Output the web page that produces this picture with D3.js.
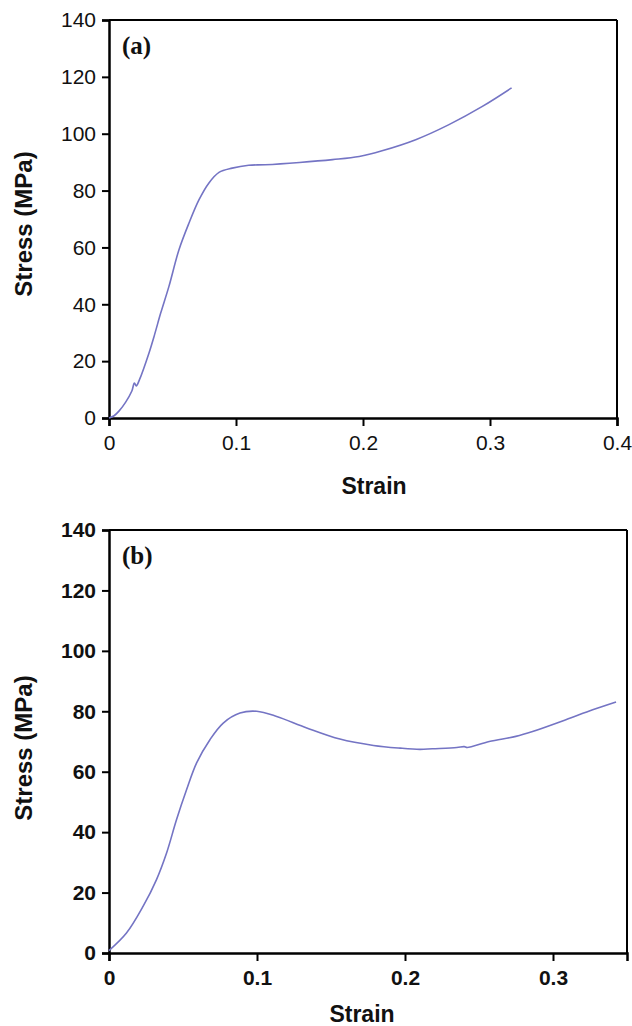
<!DOCTYPE html>
<html>
<head>
<meta charset="utf-8">
<script src="https://cdn.jsdelivr.net/npm/d3@7"></script>
<style>
  html, body { margin: 0; padding: 0; background: #fff; }
  svg { display: block; }
</style>
</head>
<body>
<svg id="chart" width="632" height="1026"></svg>
<script>
// ---- Data ----
const strainA = [0, 0.004, 0.008, 0.013, 0.018, 0.020, 0.0215, 0.024, 0.0315, 0.036, 0.0407, 0.0472, 0.0551, 0.063, 0.0709, 0.0787, 0.0866, 0.097, 0.110, 0.123, 0.150, 0.176, 0.197, 0.215, 0.2415, 0.2677, 0.294, 0.317];
const stressA = [0, 0.8, 2.5, 5.5, 9.5, 12.3, 11.3, 13.5, 22.9, 29.5, 36.9, 46.3, 59.2, 68.6, 76.8, 82.7, 86.4, 87.9, 88.9, 89.1, 89.9, 90.9, 92.0, 94.0, 97.9, 103.2, 109.6, 116.1];

const strainB = [0, 0.0118, 0.023, 0.0321, 0.0389, 0.0456, 0.0524, 0.0592, 0.0682, 0.0772, 0.0885, 0.0998, 0.1133, 0.1336, 0.156, 0.1787, 0.1968, 0.210, 0.2185, 0.235, 0.240, 0.242, 0.2569, 0.2749, 0.2862, 0.3087, 0.3268, 0.3426];
const stressB = [0.8, 6.6, 15.4, 24.3, 33.1, 44.1, 54.0, 62.9, 70.6, 76.1, 79.4, 80.0, 78.3, 74.5, 70.8, 68.7, 67.8, 67.4, 67.6, 68.0, 68.3, 68.0, 70.0, 71.7, 73.3, 77.2, 80.5, 83.1];

const xTicksA = [0, 0.1, 0.2, 0.3, 0.4];
const xTicksB = [0, 0.1, 0.2, 0.3];
const yTicks = [0, 20, 40, 60, 80, 100, 120, 140];

const panels = [
  { label: "(a)", strain: strainA, stress: stressA, xMax: 0.4, xTicks: xTicksA,
    left: 109, right: 617, top: 20, bottom: 418, bold: false,
    xTitleX: 374, xTitleY: 494, yTitleY: 224 },
  { label: "(b)", strain: strainB, stress: stressB, xMax: 0.35, xTicks: xTicksB,
    left: 109, right: 627, top: 530, bottom: 953, bold: true,
    xTitleX: 362, xTitleY: 1022, yTitleY: 748 }
];

const svg = d3.select("#chart");
const lineColor = "#7474c4";

panels.forEach(p => {
  const x = d3.scaleLinear().domain([0, p.xMax]).range([p.left, p.right]);
  const y = d3.scaleLinear().domain([0, 140]).range([p.bottom, p.top]);
  const g = svg.append("g");

  // frame (top & right)
  g.append("line").attr("x1", p.left).attr("x2", p.right).attr("y1", p.top).attr("y2", p.top)
    .attr("stroke", "#000").attr("stroke-width", 2);
  g.append("line").attr("x1", p.right).attr("x2", p.right).attr("y1", p.top).attr("y2", p.bottom)
    .attr("stroke", "#000").attr("stroke-width", 2);

  const fw = p.bold ? "bold" : "normal";

  // x axis
  const xa = g.append("g").attr("transform", `translate(0,${p.bottom})`)
    .call(d3.axisBottom(x).tickValues(p.xTicks).tickSize(8).tickPadding(9)
      .tickFormat(d => d === 0 ? "0" : d3.format(".1f")(d)));
  xa.select(".domain").attr("stroke", "#000").attr("stroke-width", 2.5);
  xa.selectAll(".tick line").attr("stroke", "#000").attr("stroke-width", 2);
  xa.selectAll(".tick text").attr("font-family", "Liberation Sans, Arial, sans-serif")
    .attr("font-size", 21).attr("font-weight", fw).attr("fill", "#111");

  // y axis
  const ya = g.append("g").attr("transform", `translate(${p.left},0)`)
    .call(d3.axisLeft(y).tickValues(yTicks).tickSize(7).tickPadding(6));
  ya.select(".domain").attr("stroke", "#000").attr("stroke-width", 2.5);
  ya.selectAll(".tick line").attr("stroke", "#000").attr("stroke-width", 2);
  ya.selectAll(".tick text").attr("font-family", "Liberation Sans, Arial, sans-serif")
    .attr("font-size", 21).attr("font-weight", fw).attr("fill", "#111");

  // curve
  const line = d3.line().x((d, i) => x(p.strain[i])).y((d, i) => y(p.stress[i]))
    .curve(d3.curveCatmullRom.alpha(0.5));
  g.append("path").datum(p.stress).attr("d", line)
    .attr("fill", "none").attr("stroke", lineColor).attr("stroke-width", 1.6);

  // panel label
  g.append("text").attr("x", p.left + 13).attr("y", p.top + 34)
    .attr("font-family", "Liberation Serif, Times New Roman, serif")
    .attr("font-size", 25).attr("font-weight", "bold").attr("fill", "#111")
    .text(p.label);

  // axis titles
  g.append("text").attr("x", p.xTitleX).attr("y", p.xTitleY).attr("text-anchor", "middle")
    .attr("font-family", "Liberation Sans, Arial, sans-serif")
    .attr("font-size", 23).attr("font-weight", "bold").attr("fill", "#111")
    .text("Strain");
  g.append("text").attr("transform", `translate(32,${p.yTitleY}) rotate(-90)`)
    .attr("text-anchor", "middle")
    .attr("font-family", "Liberation Sans, Arial, sans-serif")
    .attr("font-size", 24).attr("font-weight", "bold").attr("fill", "#111")
    .text("Stress (MPa)");
});
</script>
</body>
</html>
